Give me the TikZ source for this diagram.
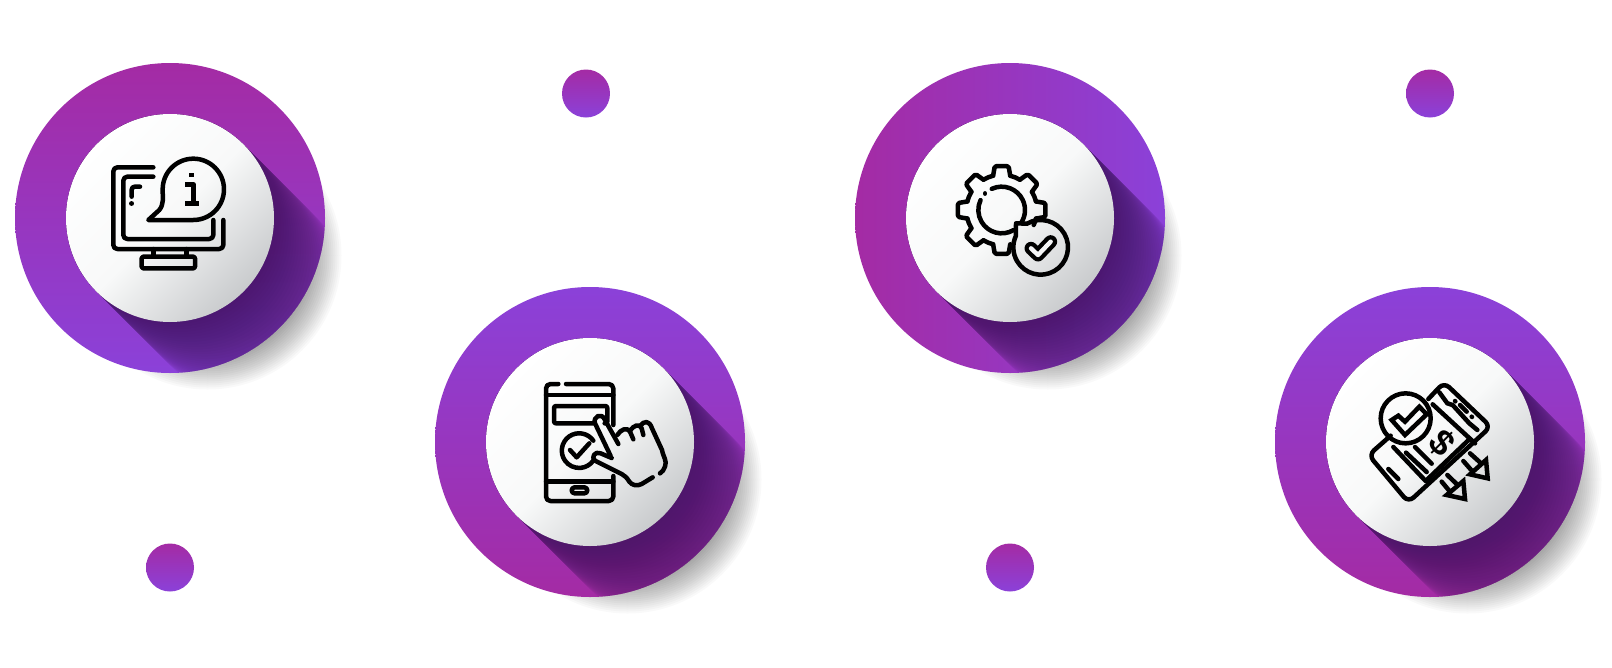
\documentclass[tikz,border=0pt]{standalone}
\usepackage{fontspec}
\setmainfont{Liberation Sans}
\definecolor{mag}{HTML}{A42BA4}
\definecolor{vio}{HTML}{8B41D9}
\definecolor{shadowdark}{HTML}{3A1658}
\definecolor{ringmid}{HTML}{F8F9F9}
\definecolor{ringlow}{HTML}{C9CBCD}
\tikzset{
  icon/.style={draw=black,line width=4.5pt,line cap=round,line join=round},
  softdisc/.style={fill=black,fill opacity=.023,draw=none},
  longshade/.style={draw=shadowdark,line width=208pt,line cap=round,draw opacity=.04},
  facedisc/.style={shading=axis,top color=white,bottom color=ringlow,middle color=ringmid,shading angle=45,draw=none},
  topdown/.style={top color=mag,bottom color=vio,draw=none},
  bottomup/.style={top color=vio,bottom color=mag,draw=none},
  leftright/.style={left color=mag,right color=vio,draw=none},
  smalldot/.style={top color=mag,bottom color=vio,draw=none}
}
\newcommand{\bigdisc}[3]{%
  \foreach \r in {104,106,...,134}{\fill[softdisc] (#1+37.5,#2+37.5) circle (\r);}
  \shade[#3] (#1,#2) circle (155);
  \begin{scope}
    \clip (#1,#2) circle (155);
    \foreach \i in {1,...,30}{\draw[longshade] (#1,#2) -- ++({\i*2.47},{\i*2.47});}
  \end{scope}
  \shade[facedisc] (#1,#2) circle (104);
}
\begin{document}
\begin{tikzpicture}[x=1pt,y=-1pt]
\useasboundingbox (0,0) rectangle (1612,667);
\fill[white] (0,0) rectangle (1612,667);

\bigdisc{170}{218}{topdown}
\bigdisc{590}{442}{bottomup}
\bigdisc{1010}{218}{leftright}
\bigdisc{1430}{442}{bottomup}

\shade[smalldot] (586,93.5) circle (24);
\shade[smalldot] (1430,93.5) circle (24);
\shade[smalldot] (170,567.5) circle (24);
\shade[smalldot] (1010,567.5) circle (24);

% monitor and information bubble
\begin{scope}[shift={(90,140)},x=.33333pt,y=-.33333pt]
  \draw[icon,rounded corners=4pt] (190,82) -- (70,82) -- (70,327) -- (400,327) -- (400,240);
  \draw[icon,rounded corners=4pt] (190,110) -- (100,110) -- (100,297) -- (370,297) -- (370,240);
  \draw[icon,rounded corners=3pt] (150,140) -- (125,140) -- (125,170);
  \draw[icon] (125,190) -- (125,191);
  \draw[icon] (175,240) -- (310,240) arc[start angle=90,end angle=-180,radius=92]
     .. controls (218,175) and (222,192) .. (208,210) -- cycle;
  \draw[icon,line width=5.5pt,line cap=butt] (305,99) -- (305,110);
  \draw[icon,line cap=butt] (285,133) -- (310,133) -- (310,190);
  \draw[icon,line cap=butt] (285,190) -- (328,190);
  \draw[icon] (190,327) -- (190,350);
  \draw[icon] (290,327) -- (290,350);
  \draw[icon,rounded corners=1.5pt] (155,350) rectangle (315,385);
\end{scope}

% phone and hand
\begin{scope}[shift={(530,370)},x=.33333pt,y=-.33333pt]
  \draw[icon,rounded corners=4.5pt] (85,42) -- (48,42) -- (48,393) -- (250,393) -- (250,318);
  \draw[icon,rounded corners=4.5pt] (108,42) -- (250,42) -- (250,165);
  \draw[icon] (48,75) -- (250,75);
  \draw[icon] (48,335) -- (250,335);
  \draw[icon,rounded corners=2pt] (190,160) -- (72,160) -- (72,108) -- (232,108) -- (232,160) -- (224,160);
  \draw[icon] (190,212) arc[start angle=-35,end angle=-325,radius=52];
  \draw[icon] (120,240) -- (140,262) -- (178,220);
  \draw[icon,rounded corners=3pt] (125,352) rectangle (172,370);
  % hand
  \draw[icon] (242,258) -- (195,160) .. controls (188,140) and (215,125) .. (225,150) -- (265,222);
  \draw[icon] (262,195) .. controls (272,178) and (292,170) .. (300,185) -- (310,208);
  \draw[icon] (300,182) .. controls (312,165) and (328,160) .. (335,175) -- (340,195);
  \draw[icon] (330,168) .. controls (342,152) and (358,150) .. (366,175) -- (396,240)
       .. controls (400,262) and (412,272) .. (405,290) .. controls (402,300) and (397,305) .. (390,310);
  \draw[icon] (368,322) -- (335,342) .. controls (320,350) and (305,345) .. (298,335)
       .. controls (290,322) and (285,318) .. (275,312) -- (195,272)
       .. controls (182,262) and (195,242) .. (212,250) -- (245,264);
\end{scope}

% gear and check badge
\begin{scope}[shift={(950,160)},x=.33333pt,y=-.33333pt]
  \begin{scope}[shift={(155,150)}]
    \foreach \a in {-90,-45,0,90,135,180,225}{
      \draw[icon,rounded corners=1.5pt] (\a-14:106) -- (\a-9:133) -- (\a+9:133) -- (\a+14:106);
    }
    \foreach \a in {-90,-45,135,180,225}{
      \draw[icon] (\a+14:106) arc[start angle=\a+14,end angle=\a+31,radius=106];
    }
    \draw[icon] (14:106) arc[start angle=14,end angle=25,radius=106];
    \draw[icon] (104:106) arc[start angle=104,end angle=121,radius=106];
    \draw[icon] (-115:70) arc[start angle=-115,end angle=33,radius=70];
    \draw[icon] (60:70) arc[start angle=60,end angle=205,radius=70];
    \draw[icon] (-50,-50) -- (-50,-49);
  \end{scope}
  \draw[icon] (198,190) -- (231,191) arc[start angle=-120,end angle=205,radius=82] -- cycle;
  \draw[line width=13pt,black,line cap=round,line join=round] (243,265) -- (264,285) -- (302,245);
  \draw[line width=4.4pt,ringmid!92!ringlow,line cap=round,line join=round] (243,265) -- (264,285) -- (302,245);
\end{scope}

% tilted phone with payment badge
\begin{scope}[shift={(1360,375)},x=.33333pt,y=-.33333pt]
  \draw[icon,rounded corners=7pt] (205,72) -- (252,22) -- (392,155) -- (145,382) -- (26,240) -- (92,182);
  \draw[icon] (238,52) -- (262,85) -- (278,90) -- (328,145) -- (352,165);
  \draw[icon] (218,88) -- (345,205);
  \draw[icon] (330,191) -- (197,318) -- (100,216);
  \draw[icon] (138,233) -- (200,291);
  \draw[icon] (165,216) -- (215,266);
  \draw[icon] (85,282) -- (115,312);
  \draw[icon] (285,78) -- (286,79);
  \draw[icon] (300,90) -- (320,110);
  \draw[icon] (335,125) -- (336,126);
  \node[font=\bfseries\fontsize{36}{36}\selectfont,inner sep=0pt,rotate=-45] (dollar) at (247,205) {\$};
  \draw[icon] (330,235) -- (360,262);
  \draw[icon] (310,258) -- (338,290);
  \draw[icon,line join=miter] (378,255) -- (383,310) -- (330,298) -- cycle;
  \draw[icon] (262,300) -- (290,327);
  \draw[icon] (245,320) -- (270,350);
  \draw[icon,line join=miter] (310,318) -- (315,372) -- (260,360) -- cycle;
  \draw[icon] (137,130) circle (75);
  \draw[icon,line join=miter] (95,135) -- (115,122) -- (135,140) -- (178,95) -- (200,118) -- (135,180) -- cycle;
\end{scope}
\end{tikzpicture}
\end{document}
